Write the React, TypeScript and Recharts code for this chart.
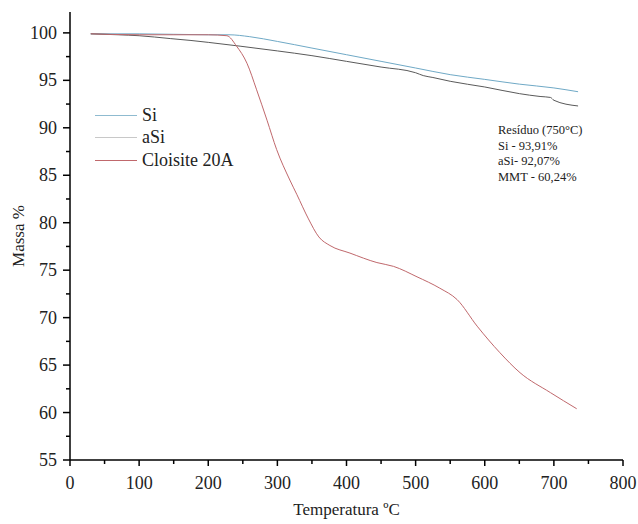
import { LineChart, Line, XAxis, YAxis } from 'recharts'

const xTicks = [0, 50, 100, 150, 200, 250, 300, 350, 400, 450, 500, 550, 600, 650, 700, 750, 800]
const yTicks = [55, 57.5, 60, 62.5, 65, 67.5, 70, 72.5, 75, 77.5, 80, 82.5, 85, 87.5, 90, 92.5, 95, 97.5, 100]

const siTemp = [30, 100, 200, 230, 260, 300, 350, 400, 450, 500, 550, 600, 650, 700, 735]
const siMass = [99.9, 99.9, 99.8, 99.8, 99.6, 99.1, 98.4, 97.7, 97.0, 96.3, 95.6, 95.1, 94.6, 94.2, 93.8]

const aSiTemp = [30, 70, 100, 145, 175, 200, 246, 300, 350, 400, 450, 500, 511, 525, 550, 600, 650, 680, 695, 700, 735]
const aSiMass = [99.9, 99.8, 99.7, 99.4, 99.2, 99.0, 98.6, 98.1, 97.6, 97.0, 96.4, 95.8, 95.5, 95.3, 94.9, 94.3, 93.6, 93.3, 93.2, 92.9, 92.3]

const clTemp = [30, 100, 200, 227, 241, 256, 270, 285, 299, 318, 328, 345, 360, 376, 405, 444, 468, 502, 535, 560, 589, 622, 651, 695, 733]
const clMass = [99.9, 99.8, 99.8, 99.7, 98.6, 96.8, 94.0, 90.8, 87.7, 84.5, 83.0, 80.4, 78.5, 77.6, 76.8, 75.8, 75.4, 74.3, 73.1, 71.9, 69.1, 66.3, 64.2, 62.1, 60.4]

const seriesNames = ['Si', 'aSi', 'Cloisite 20A']
const seriesColors = ['#6fa9c6', '#5a5a5a', '#c0686c']
const legendColors = ['#8fbbd0', '#c8c8c8', '#c0686c']

const residueLines = ['Resíduo (750°C)', 'Si - 93,91%', 'aSi- 92,07%', 'MMT - 60,24%']

const toPoints = (t: number[], m: number[]) => t.map((v, i) => ({ t: v, m: m[i] }))
const seriesData = [toPoints(siTemp, siMass), toPoints(aSiTemp, aSiMass), toPoints(clTemp, clMass)]

const FONT = '"Liberation Serif", "Times New Roman", Times, serif'

const XTick = ({ x, y, payload }: { x: number; y: number; payload: { value: number } }) => {
  const major = payload.value % 100 === 0
  return (
    <g>
      <line x1={x} y1={y} x2={x} y2={y + (major ? 6 : 4)} stroke="#000" strokeWidth={1.5} />
      {major && (
        <text x={x} y={y + 29} textAnchor="middle" fontSize={18} fontFamily={FONT} fill="#222">
          {payload.value}
        </text>
      )}
    </g>
  )
}

const YTick = ({ x, y, payload }: { x: number; y: number; payload: { value: number } }) => {
  const major = payload.value % 5 === 0
  return (
    <g>
      <line x1={x} y1={y} x2={x - (major ? 7 : 4)} y2={y} stroke="#000" strokeWidth={1.5} />
      {major && (
        <text x={x - 13} y={y + 6} textAnchor="end" fontSize={18} fontFamily={FONT} fill="#222">
          {payload.value}
        </text>
      )}
    </g>
  )
}

export default function App() {
  return (
    <div style={{ position: 'absolute', left: 0, top: 0, width: 638, height: 524, background: '#fff' }}>
      <LineChart width={638} height={524} margin={{ top: 12, right: 15, bottom: 0, left: 0 }}>
        <XAxis
          dataKey="t"
          type="number"
          domain={[0, 800]}
          ticks={xTicks}
          interval={0}
          tickSize={0}
          tickMargin={0}
          tick={XTick}
          height={64}
          axisLine={{ stroke: '#000', strokeWidth: 1.5 }}
          label={{ value: 'Temperatura ºC', position: 'insideBottom', offset: 9, fontSize: 17, fontFamily: FONT, fill: '#222' }}
        />
        <YAxis
          type="number"
          domain={[55, 102.2]}
          ticks={yTicks}
          interval={0}
          tickSize={0}
          tickMargin={0}
          tick={YTick}
          width={70}
          allowDataOverflow
          axisLine={{ stroke: '#000', strokeWidth: 1.5 }}
          label={{ value: 'Massa %', angle: -90, position: 'insideLeft', offset: 18, fontSize: 17, fontFamily: FONT, fill: '#222', style: { textAnchor: 'middle' } }}
        />
        {seriesNames.map((name, i) => (
          <Line
            key={name}
            data={seriesData[i]}
            dataKey="m"
            name={name}
            stroke={seriesColors[i]}
            strokeWidth={1}
            dot={false}
            type="monotone"
            isAnimationActive={false}
          />
        ))}
      </LineChart>
      <div style={{ position: 'absolute', left: 95, top: 104, fontFamily: FONT, fontSize: 18, color: '#222' }}>
        {seriesNames.map((name, i) => (
          <div key={name} style={{ display: 'flex', alignItems: 'center', height: 22.5 }}>
            <span style={{ display: 'inline-block', width: 42, height: 1, background: legendColors[i], marginRight: 5 }} />
            <span>{name}</span>
          </div>
        ))}
      </div>
      <div style={{ position: 'absolute', left: 498, top: 123, fontFamily: FONT, fontSize: 12.5, lineHeight: '15.7px', color: '#222' }}>
        {residueLines.map((l) => (
          <div key={l}>{l}</div>
        ))}
      </div>
    </div>
  )
}
